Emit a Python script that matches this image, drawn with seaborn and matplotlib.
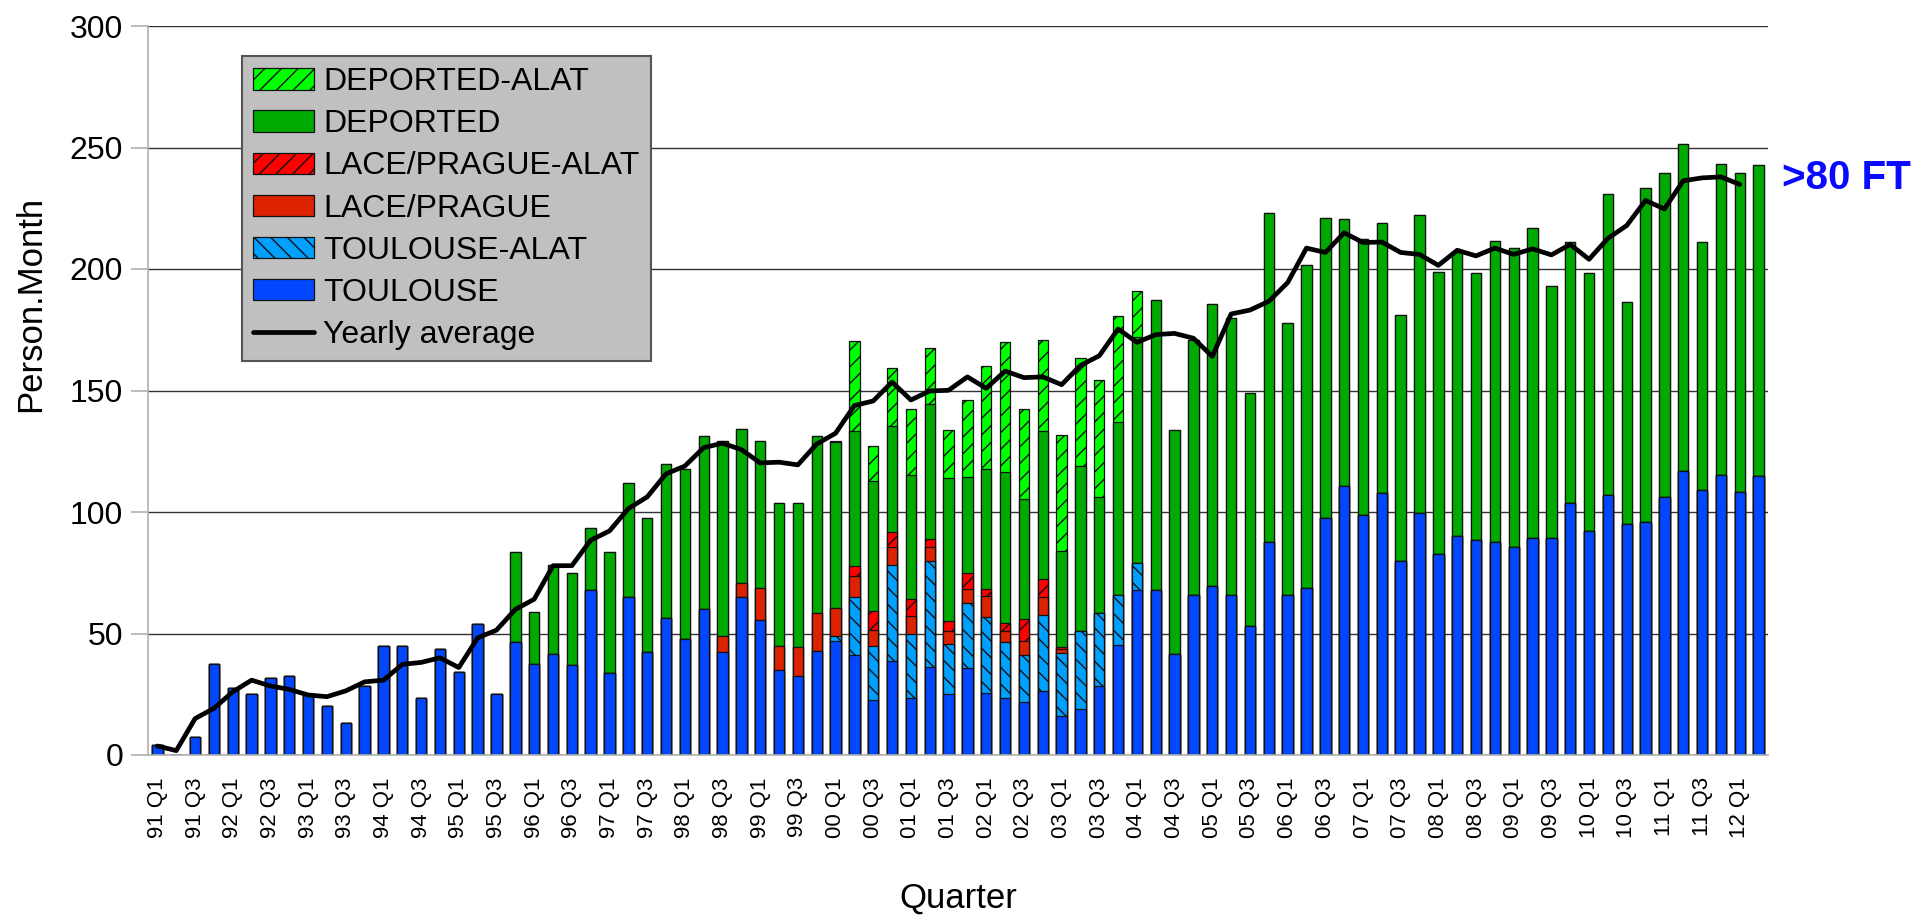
#!/usr/bin/env python3
# -*- coding: utf-8 -*-

"""Quarterly person.month stacked bars with yearly average line."""

import numpy as np
import pandas as pd
import matplotlib
matplotlib.use("Agg")
import matplotlib.pyplot as plt
from matplotlib.patches import Patch
from matplotlib.lines import Line2D
import seaborn as sns


# ==========================================================
# Data
# ==========================================================

YEARS = ["91", "92", "93", "94", "95", "96", "97", "98", "99", "00", "01",
         "02", "03", "04", "05", "06", "07", "08", "09", "10", "11", "12"]
QUARTERS = [f"{y} Q{q}" for y in YEARS for q in (1, 2, 3, 4)][:86]

toulouse = [
    4, 0, 7.5, 37.4, 27.4, 25, 31.5, 32.5, 25.3, 20, 13, 28.5,
    45, 44.7, 23.6, 43.7, 34, 54, 25, 46.3, 37.4, 41.5, 37, 68.1,
    33.8, 65.1, 42.2, 56.2, 47.7, 60.2, 42.2, 64.9, 55.6, 34.8, 32.6, 42.7,
    46.8, 41.1, 22.5, 38.6, 23.5, 36.2, 24.9, 35.9, 25.4, 23.5, 21.7, 26.3,
    16.1, 18.9, 28.5, 45.2, 67.7, 67.7, 41.4, 66, 69.4, 65.8, 53.1, 87.7,
    65.8, 68.7, 97.7, 110.9, 98.8, 107.7, 79.7, 99.7, 82.7, 90.2, 88.4, 87.7,
    85.8, 89.5, 89.5, 103.6, 92.2, 106.8, 95, 95.9, 106.3, 116.8, 109.1, 115.2,
    108.4, 114.8,
]

toulouse_alat = [0] * 36 + [
    2.0, 23.8, 22.2, 39.4, 26.1, 43.8, 20.9, 26.8, 31.3, 23, 19.4, 31.3,
    25.8, 32.3, 29.8, 20.5, 11.2,
] + [0] * 33

lace = [0] * 30 + [
    6.6, 5.7, 13.1, 9.9, 11.7, 15.6, 11.8, 8.6, 6.6, 7.4, 7.6, 5.4,
    5.4, 5.8, 8.8, 4.4, 5.7, 7.4, 1.6,
] + [0] * 37

lace_alat = [0] * 37 + [
    4.1, 7.9, 6.3, 7.2, 3.6, 3.9, 6.3, 2.8, 3.4, 9.1, 7.3, 0.9,
] + [0] * 37

deported = [0] * 19 + [
    37.4, 21.4, 36.6, 37.7, 25.5, 49.9, 46.8, 55.3, 63.5, 69.9, 71.1, 80.6,
    63.4, 60.6, 59.2, 59.3, 72.9, 68.2, 55.6, 53.4, 43.6, 51, 55.4, 58.9,
    39.4, 49.2, 62.1, 49.6, 61.2, 39.5, 67.7, 47.8, 71.2, 93.1, 119.5, 92.2,
    104.6, 116.4, 113.9, 95.8, 135.2, 111.8, 132.8, 123.2, 109.7, 113.4, 111.1, 101.3,
    122.5, 116.1, 116.8, 109.9, 124, 122.7, 127.2, 103.4, 107.7, 106.1, 124.1, 91.3,
    137.3, 133.4, 134.8, 102, 128.2, 131.3, 128.1,
]

deported_alat = [0] * 36 + [
    0.6, 37.2, 14.5, 23.9, 27, 23.2, 19.7, 31.9, 42.5, 53.5, 36.7, 37.2,
    47.8, 44.6, 48.1, 43.9, 18.9,
] + [0] * 33

yearly_average = [
    3.7, 1.8, 15, 19.2, 26, 30.8, 28.4, 27, 24.7, 24, 26.4, 30.1,
    30.8, 37.3, 38.1, 40, 36, 48.2, 51.4, 59.9, 64.1, 77.9, 77.9, 88.4,
    92.2, 101.4, 106.2, 115.7, 118.9, 126.5, 128.3, 125.7, 120.2, 120.5, 119.4, 128,
    132.4, 143.8, 145.7, 153.5, 146.1, 149.8, 150.1, 155.6, 150.9, 158, 155.3, 155.6,
    152.4, 160.3, 164.3, 175.3, 169.8, 173, 173.5, 171.5, 164, 181.5, 183.1, 186.7,
    194.4, 208.6, 206.8, 214.9, 210.9, 211.1, 206.8, 206, 201.5, 207.7, 205.4, 208.6,
    206, 208.3, 205.8, 210.1, 204, 212.6, 217.9, 228.2, 224.7, 236.3, 237.5, 237.9,
    234.8, np.nan,
]

# stacking order bottom -> top: (label, values, colour, hatch)
SERIES = [
    ("TOULOUSE", toulouse, "#0047ff", ""),
    ("TOULOUSE-ALAT", toulouse_alat, "#00a0ff", "\\\\"),
    ("LACE/PRAGUE", lace, "#dd2200", ""),
    ("LACE/PRAGUE-ALAT", lace_alat, "#ff0000", "//"),
    ("DEPORTED", deported, "#00aa00", ""),
    ("DEPORTED-ALAT", deported_alat, "#00ff00", "//"),
]


# ==========================================================
# Figure
# ==========================================================

def main():
    sns.set_style("white")
    plt.rcParams["font.family"] = ["Liberation Sans", "DejaVu Sans"]
    plt.rcParams["hatch.linewidth"] = 1.0
    for key in ("text.color", "axes.labelcolor", "xtick.color", "ytick.color"):
        plt.rcParams[key] = "black"

    W, H = 1926, 915
    fig = plt.figure(figsize=(W / 100, H / 100), dpi=100)
    ax = fig.add_axes([148 / W, 1 - 755 / H, 1620 / W, (755 - 26) / H])

    df = pd.DataFrame({"quarter": QUARTERS})
    cum = np.zeros(len(QUARTERS))
    tops = []
    for label, values, color, hatch in SERIES:
        cum = cum + np.array(values, dtype=float)
        tops.append((label, cum.copy(), color, hatch))

    # draw cumulative totals from the top layer down so each segment shows
    for label, top, color, hatch in reversed(tops):
        df["top"] = top
        sns.barplot(
            data=df, x="quarter", y="top", color=color, saturation=1,
            errorbar=None, width=0.55, hatch=hatch, edgecolor="#111111",
            linewidth=0.9, ax=ax,
        )

    sns.lineplot(
        x=np.arange(len(QUARTERS)), y=yearly_average, color="black",
        linewidth=3.4, ax=ax, sort=False,
    )

    # axes
    ax.set_xlim(-0.5, len(QUARTERS) - 0.5)
    ax.set_ylim(0, 300)
    ax.set_yticks(range(0, 301, 50))
    ax.yaxis.grid(True, color="#333333", linewidth=1.0)
    ax.set_axisbelow(True)
    ax.set_xlabel("")
    ax.set_ylabel("")

    for side in ("top", "right"):
        ax.spines[side].set_visible(False)
    ax.spines["left"].set_color("#b0b0b0")
    ax.spines["bottom"].set_color("#b0b0b0")
    ax.spines["left"].set_linewidth(1.2)
    ax.spines["bottom"].set_linewidth(1.2)

    major = np.arange(0, len(QUARTERS), 2)
    ax.set_xticks(major)
    ax.set_xticklabels([QUARTERS[i] for i in major], rotation=90, fontsize=16)
    ax.set_xticks(np.arange(-0.5, len(QUARTERS)), minor=True)
    ax.tick_params(axis="x", which="major", length=0, pad=16, colors="black")
    ax.tick_params(axis="x", which="minor", length=12, color="#c0c0c0",
                   width=1.2, direction="out")
    ax.tick_params(axis="y", length=12, color="#b0b0b0", labelcolor="black",
                   width=1.2, labelsize=23, pad=6, left=True, direction="out")

    fig.text(31 / W, 1 - 304 / H, "Person.Month", rotation=90, fontsize=25,
             ha="center", va="center", color="black")
    fig.text(958 / W, 1 - 898 / H, "Quarter", fontsize=25,
             ha="center", va="center", color="black")
    fig.text(1782 / W, 1 - 178 / H, ">80 FT", fontsize=29, fontweight="bold",
             color="#0a0aff", ha="left", va="center")

    # legend
    handles = []
    for label, values, color, hatch in reversed(SERIES):
        handles.append(Patch(facecolor=color, edgecolor="#111111", hatch=hatch,
                             linewidth=0.9, label=label))
    handles.append(Line2D([0], [0], color="black", linewidth=3.4,
                          label="Yearly average"))
    leg = fig.legend(
        handles=handles, loc="upper left",
        bbox_to_anchor=(242 / W, 1 - 56 / H), bbox_transform=fig.transFigure,
        fontsize=23, frameon=True, fancybox=False, framealpha=1,
        facecolor="#c0c0c0", edgecolor="#555555", borderpad=0.35,
        labelspacing=0.38, handlelength=1.9, handleheight=0.65,
        handletextpad=0.3, borderaxespad=0,
    )
    leg.get_frame().set_linewidth(1.5)
    for text in leg.get_texts():
        text.set_color("black")

    fig.savefig("out.png", dpi=100)
    plt.close(fig)


if __name__ == "__main__":
    main()
